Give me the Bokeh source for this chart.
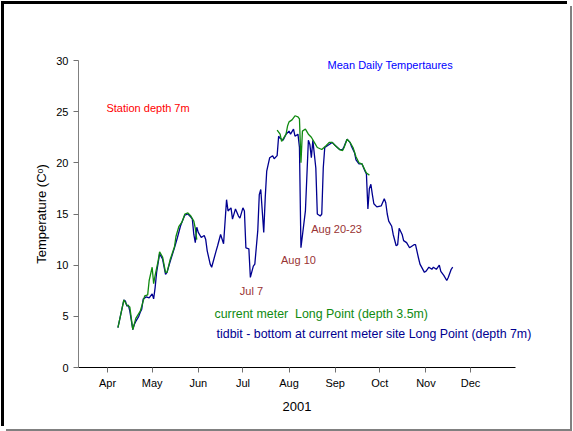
import pandas as pd
import numpy as np
from bokeh.plotting import figure
from bokeh.models import Range1d, FixedTicker, Label, Title
from bokeh.embed import file_html
from bokeh.resources import INLINE

YEAR = 2001

# tidbit - bottom at current meter site (depth 7m), mean daily temperature (C)
tidbit_dates = [
    "04-08", "04-12", "04-13", "04-14", "04-15", "04-16", "04-18", "04-19", "04-20", "04-22",
    "04-23", "04-24", "04-25", "04-27", "04-29", "05-01", "05-02", "05-03", "05-04", "05-06",
    "05-08", "05-10", "05-11", "05-13", "05-16", "05-18", "05-20", "05-21", "05-23", "05-25",
    "05-27", "05-28", "05-29", "05-30", "05-31", "06-01", "06-03", "06-05", "06-06", "06-07",
    "06-09", "06-10", "06-13", "06-14", "06-16", "06-18", "06-20", "06-21", "06-23", "06-24",
    "06-26", "06-28", "06-29", "07-01", "07-02", "07-03", "07-05", "07-06", "07-08", "07-09",
    "07-11", "07-12", "07-13", "07-15", "07-16", "07-17", "07-19", "07-21", "07-22", "07-24",
    "07-25", "07-26", "07-28", "07-30", "08-01", "08-02", "08-04", "08-05", "08-07", "08-08",
    "08-09", "08-12", "08-14", "08-15", "08-16", "08-17", "08-19", "08-20", "08-22", "08-23",
    "08-24", "08-25", "08-28", "08-30", "09-01", "09-04", "09-06", "09-07", "09-09", "09-11",
    "09-12", "09-14", "09-15", "09-17", "09-19", "09-21", "09-22", "09-23", "09-24", "09-25",
    "09-26", "09-27", "09-29", "10-02", "10-04", "10-05", "10-06", "10-07", "10-09", "10-10",
    "10-12", "10-13", "10-14", "10-16", "10-17", "10-19", "10-21", "10-22", "10-24", "10-25",
    "10-27", "10-28", "10-31", "11-01", "11-03", "11-05", "11-06", "11-08", "11-10", "11-11",
    "11-13", "11-15", "11-16", "11-18", "11-19",
]
tidbit_temps = [
    3.9, 6.6, 6.5, 6.0, 6.1, 5.5, 3.7, 4.2, 4.5, 5.0,
    5.4, 5.7, 6.7, 6.9, 6.8, 7.2, 6.7, 7.8, 9.3, 11.1,
    10.6, 9.1, 9.3, 10.3, 11.7, 12.7, 13.8, 14.2, 14.9, 15.0,
    14.7, 14.5, 13.0, 12.2, 13.7, 13.2, 12.7, 12.9, 12.5, 11.4,
    10.1, 9.8, 11.4, 11.9, 13.0, 12.1, 16.4, 15.3, 15.6, 14.5,
    15.5, 14.8, 14.6, 15.6, 15.3, 11.7, 11.6, 8.8, 9.9, 10.1,
    13.4, 16.9, 17.4, 13.2, 16.6, 19.2, 20.5, 20.7, 20.4, 20.7,
    22.6, 22.4, 22.2, 22.8, 23.1, 22.8, 23.3, 22.6, 22.8, 21.5,
    11.7, 15.3, 22.2, 21.8, 20.5, 22.2, 19.5, 15.0, 14.8, 15.0,
    19.5, 21.5, 21.8, 22.0, 21.7, 21.3, 21.3, 21.6, 22.3, 22.0,
    21.6, 21.0, 20.3, 19.9, 19.9, 19.2, 18.9, 15.5, 17.5, 17.9,
    16.9, 16.0, 15.7, 15.8, 16.5, 16.1, 15.0, 14.3, 13.8, 13.0,
    11.9, 12.0, 13.6, 13.0, 12.4, 12.2, 11.7, 11.8, 12.0, 12.0,
    10.7, 10.1, 9.3, 9.4, 9.8, 9.6, 9.8, 9.6, 10.0, 9.4,
    9.0, 8.5, 8.8, 9.6, 9.8,
]

# current meter Long Point (depth 3.5m); None marks the gap in the record
meter_dates = [
    "04-08", "04-12", "04-14", "04-16", "04-18", "04-20", "04-23", "04-24", "04-26", "04-28",
    "04-29", "05-01", "05-02", "05-03", "05-05", "05-06", "05-08", "05-10", "05-11", "05-13",
    "05-16", "05-17", "05-19", "05-21", "05-23", "05-25", "05-27", "05-29", "05-30", "05-31",
    "06-15",
    "07-24", "07-26", "07-27", "07-30", "07-31", "08-01", "08-03", "08-05", "08-07", "08-08",
    "08-09", "08-10", "08-12", "08-14", "08-16", "08-18", "08-20", "08-23", "08-26", "08-28",
    "08-30", "09-01", "09-04", "09-06", "09-07", "09-09", "09-11", "09-13", "09-15", "09-17",
    "09-19", "09-21", "09-22", "09-24",
]
meter_temps = [
    3.9, 6.6, 6.1, 5.9, 3.7, 4.8, 5.5, 6.0, 7.0, 7.1,
    8.5, 9.8, 8.2, 9.0, 10.4, 11.3, 10.8, 9.3, 9.3, 10.5,
    11.8, 12.8, 13.8, 14.2, 15.0, 15.1, 14.8, 14.3, 13.6, 12.5,
    None,
    23.2, 22.8, 22.1, 22.8, 23.6, 24.0, 24.2, 24.6, 24.5, 24.3,
    20.0, 23.1, 23.3, 22.8, 22.5, 22.0, 21.5, 21.3, 21.7, 22.0,
    22.0, 21.7, 21.3, 21.2, 21.5, 22.3, 22.0, 21.5, 20.6, 20.0,
    19.9, 19.3, 19.0, 18.8,
]

month_starts = ["04-01", "05-01", "06-01", "07-01", "08-01", "09-01", "10-01", "11-01", "12-01"]
month_labels = ["Apr", "May", "Jun", "Jul", "Aug", "Sep", "Oct", "Nov", "Dec"]
y_ticks = [0, 5, 10, 15, 20, 25, 30]


def day_of_year(md_list):
    return pd.to_datetime([f"{YEAR}-{d}" for d in md_list]).dayofyear.to_numpy().astype(float)


tid_x = day_of_year(tidbit_dates)
tid_y = np.array(tidbit_temps, dtype=float)
met_x = day_of_year(meter_dates)
met_y = np.array([np.nan if v is None else v for v in meter_temps], dtype=float)
tick_x = day_of_year(month_starts)

FONT = "Liberation Sans"
BLUE = "#000090"
GREEN = "#108a10"
MAROON = "#993333"

X_START, X_AXIS_END, X_FRAME_END = 71.5, 365.3, 382.0

p = figure(
    width=566, height=425,
    output_backend="svg", toolbar_location=None,
    x_range=Range1d(X_START, X_FRAME_END), y_range=Range1d(0, 30),
    min_border_left=74, min_border_right=30, min_border_top=56, min_border_bottom=62,
)
p.styles = {
    "margin-left": "4px",
    "margin-top": "4px",
    "box-shadow": "-3px -3px 0 0 #000000, 2px 2px 0 0 #808080",
}
p.outline_line_color = None
p.xgrid.visible = False
p.ygrid.visible = False
p.background_fill_color = "white"
p.border_fill_color = "white"

p.line(tid_x, tid_y, line_color=BLUE, line_width=1.3)
p.line(met_x, met_y, line_color=GREEN, line_width=1.3)

# axes
xa = p.xaxis[0]
xa.bounds = (X_START, X_AXIS_END)
xa.ticker = FixedTicker(ticks=list(tick_x))
xa.major_label_overrides = {float(t): lab for t, lab in zip(tick_x, month_labels)}
xa.axis_line_color = "black"
xa.major_tick_line_color = "#707070"
xa.minor_tick_line_color = None
xa.major_tick_out = 5
xa.major_tick_in = 0
xa.major_label_standoff = 4
xa.major_label_text_font = FONT
xa.major_label_text_font_size = "11px"
xa.major_label_text_color = "black"

# x-axis title, centred under the drawn axis line rather than the whole frame
p.add_layout(Title(text=str(YEAR), align="left", offset=204, vertical_align="top",
                   standoff=20, text_font=FONT, text_font_size="13px",
                   text_font_style="normal", text_color="black"), "below")

ya = p.yaxis[0]
ya.ticker = FixedTicker(ticks=y_ticks)
ya.axis_label = "Temperature (C\u1d52)"
ya.axis_line_color = "#808080"
ya.major_tick_line_color = "#707070"
ya.minor_tick_line_color = None
ya.major_tick_out = 5
ya.major_tick_in = 0
ya.major_label_standoff = 5
ya.axis_label_standoff = 4
ya.major_label_text_font = FONT
ya.major_label_text_font_size = "11px"
ya.major_label_text_color = "black"
ya.axis_label_text_font = FONT
ya.axis_label_text_font_size = "13px"
ya.axis_label_text_font_style = "normal"
ya.axis_label_text_color = "black"

texts = [
    (238.9, 29.57, "Mean Daily Tempertaures", "#0000ff", "11px"),
    (90.3, 25.34, "Station depth 7m", "#ff0000", "11px"),
    (179.9, 7.48, "Jul 7", MAROON, "11px"),
    (207.6, 10.48, "Aug 10", MAROON, "11px"),
    (227.9, 13.54, "Aug 20-23", MAROON, "11px"),
    (162.9, 5.2, "current meter \u00a0Long Point (depth 3.5m)", GREEN, "12.4px"),
    (164.3, 3.3, "tidbit - bottom at current meter site Long Point (depth 7m)", BLUE, "12.4px"),
]
for x, y, t, c, fs in texts:
    p.add_layout(Label(x=x, y=y, text=t, text_color=c, text_font=FONT,
                       text_font_size=fs, text_baseline="middle", text_align="left"))

open("out.html", "w").write(file_html(p, INLINE))
